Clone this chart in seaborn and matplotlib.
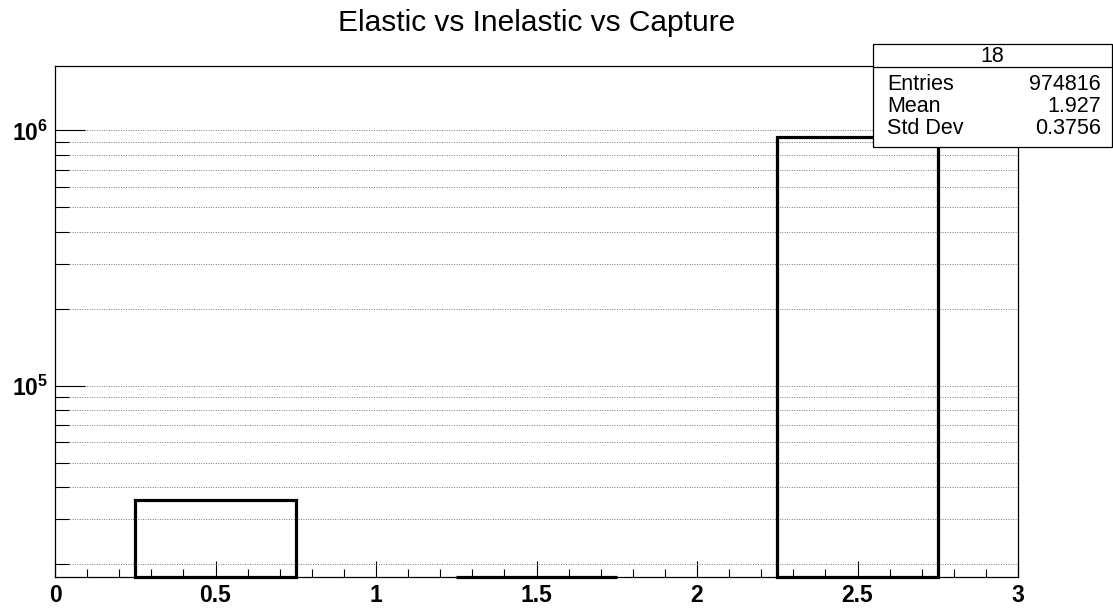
import numpy as np
import matplotlib
matplotlib.use("Agg")
import matplotlib.pyplot as plt
from matplotlib.patches import Rectangle
from matplotlib.ticker import FixedLocator, MultipleLocator, FuncFormatter, NullFormatter
import seaborn as sns

# Interaction type histogram: elastic, inelastic, capture
bin_centers = [0.5, 1.5, 2.5]
bin_counts = [35614, 300, 938902]
hist_name = "18"
stat_labels = ["Entries", "Mean", "Std Dev"]
stat_values = ["974816", "1.927", "0.3756"]
title = "Elastic vs Inelastic vs Capture"

y_min, y_max = 1.782e4, 1.786e6

sns.set_style("white")
plt.rcParams["font.family"] = ["Liberation Sans", "DejaVu Sans"]
plt.rcParams["mathtext.fontset"] = "custom"
plt.rcParams["mathtext.rm"] = "Liberation Sans"
plt.rcParams["mathtext.bf"] = "Liberation Sans:bold"
for key in ("text.color", "axes.labelcolor", "xtick.color", "ytick.color",
            "axes.edgecolor"):
    plt.rcParams[key] = "black"

W, H = 1113, 608
fig = plt.figure(figsize=(W / 100, H / 100), dpi=100)
ax = fig.add_axes([55 / W, 1 - 577 / H, (1018 - 55) / W, (577 - 66) / H])

sns.barplot(x=bin_centers, y=bin_counts, native_scale=True, width=0.5,
            fill=False, errorbar=None, color="black", linewidth=2.3, ax=ax)
ax.set_yscale("log")

# Bars start at the frame floor; bins below the floor collapse onto it
for p in ax.patches:
    h = p.get_y() + p.get_height()
    p.set_edgecolor("black")
    p.set_linewidth(2.3)
    p.set_y(y_min)
    p.set_height(max(h, y_min) - y_min)
    p.set_clip_on(False)
    p.set_zorder(5)

ax.set_xlim(0, 3)
ax.set_ylim(y_min, y_max)
ax.set_xlabel("")
ax.set_ylabel("")

for s in ax.spines.values():
    s.set_linewidth(0.9)
    s.set_color("black")

ax.xaxis.set_major_locator(MultipleLocator(0.5))
ax.xaxis.set_minor_locator(MultipleLocator(0.1))
ax.xaxis.set_major_formatter(FuncFormatter(lambda v, pos: f"{v:g}"))
ax.yaxis.set_major_locator(FixedLocator([1e5, 1e6]))
minors = [m * 10 ** e for e in (4, 5, 6) for m in range(2, 10)]
ax.yaxis.set_minor_locator(FixedLocator(minors))
ax.yaxis.set_major_formatter(FuncFormatter(
    lambda v, pos: r"$\mathbf{10^{%d}}$" % round(np.log10(v))))
ax.yaxis.set_minor_formatter(NullFormatter())

ax.tick_params(axis="x", which="major", direction="in", length=11.5, width=0.8,
               labelsize=16.5, pad=5, bottom=True, top=False, colors="black")
ax.tick_params(axis="x", which="minor", direction="in", length=5.8, width=0.8,
               bottom=True, top=False, colors="black")
ax.tick_params(axis="y", which="major", direction="in", length=21.5, width=0.8,
               labelsize=16.5, pad=5, left=True, right=False, colors="black")
ax.tick_params(axis="y", which="minor", direction="in", length=10, width=0.8,
               left=True, right=False, colors="black")
for lab in ax.get_xticklabels():
    lab.set_fontweight("bold")

ax.yaxis.grid(True, which="both", color="#777777", linestyle=(0, (1, 1.5)),
              linewidth=0.7)
ax.xaxis.grid(False)
ax.set_axisbelow(True)

fig.text(537 / W, 1 - 23 / H, title, ha="center", va="center", fontsize=21.5)

# Statistics box
bx0, bx1, by0, by1, ysep = 873, 1112, 44, 147, 67
fig.add_artist(Rectangle((bx0 / W, 1 - by1 / H), (bx1 - bx0) / W, (by1 - by0) / H,
                         transform=fig.transFigure, facecolor="white",
                         edgecolor="black", linewidth=0.9, zorder=10))
fig.add_artist(plt.Line2D([bx0 / W, bx1 / W], [1 - ysep / H, 1 - ysep / H],
                          transform=fig.transFigure, color="black",
                          linewidth=0.9, zorder=11))
fig.text((bx0 + bx1) / 2 / W, 1 - 56 / H, hist_name, ha="center", va="center",
         fontsize=15.5, zorder=12)
for i, (lab, val) in enumerate(zip(stat_labels, stat_values)):
    yy = 1 - (85 + 22 * i) / H
    fig.text(887 / W, yy, lab, ha="left", va="center", fontsize=15.5, zorder=12)
    fig.text(1101 / W, yy, val, ha="right", va="center", fontsize=15.5, zorder=12)

fig.savefig("out.png", dpi=100)
